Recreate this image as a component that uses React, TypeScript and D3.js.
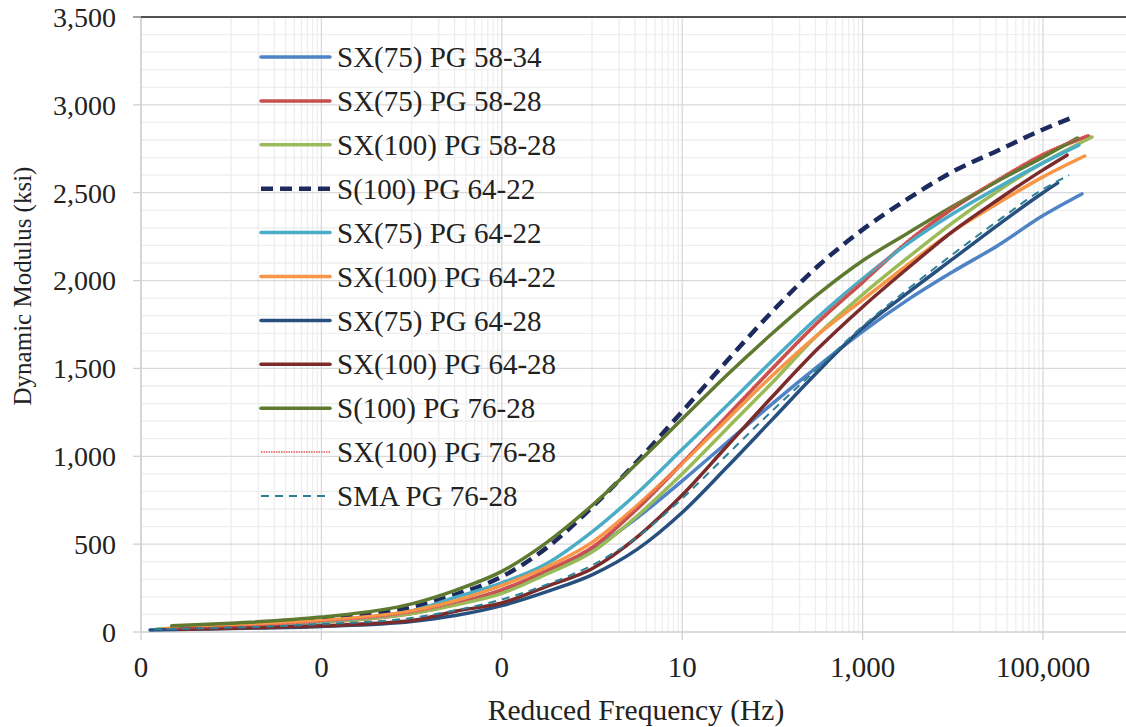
import React from "react";
import * as d3 from "d3";

const W = 1126;
const H = 727;

// common frequency grid (Hz) between each series' start and end
const GRID_FREQ = [1e-4, 1e-3, 1e-2, 0.0316, 0.1, 0.316, 1, 3.16, 10, 31.6, 100, 316, 1000, 3162, 10000, 31623, 100000];

const SERIES_NAMES = [
  "SX(75) PG 58-34",
  "SX(75) PG 58-28",
  "SX(100) PG 58-28",
  "S(100) PG 64-22",
  "SX(75) PG 64-22",
  "SX(100) PG 64-22",
  "SX(75) PG 64-28",
  "SX(100) PG 64-28",
  "S(100) PG 76-28",
  "SX(100) PG 76-28",
  "SMA PG 76-28",
];

const START_FREQ = [1.6e-5, 1.9e-5, 1.5e-5, 2.1e-5, 2.1e-5, 1.9e-5, 1.26e-5, 2.7e-5, 2.2e-5, 1.9e-5, 1.4e-5];
const START_VAL = [15, 15, 17, 25, 15, 20, 12, 15, 35, 18, 15];
const END_FREQ = [2.7e5, 3.2e5, 3.5e5, 2.3e5, 2.5e5, 2.9e5, 1.45e5, 1.85e5, 2.4e5, 3.1e5, 1.95e5];
const END_VAL = [2493, 2823, 2817, 2935, 2771, 2709, 2555, 2714, 2811, 2830, 2600];

const sx75_5834 = [30, 60, 110, 165, 240, 340, 470, 650, 860, 1080, 1300, 1510, 1710, 1890, 2050, 2200, 2370];
const sx75_5828 = [28, 55, 105, 160, 240, 350, 480, 700, 960, 1230, 1500, 1760, 1990, 2220, 2410, 2570, 2715];
const sx100_5828 = [28, 55, 105, 155, 220, 330, 455, 660, 900, 1160, 1420, 1690, 1920, 2130, 2330, 2510, 2670];
const s100_6422 = [40, 75, 140, 215, 315, 480, 710, 970, 1255, 1545, 1825, 2080, 2290, 2465, 2620, 2740, 2860];
const sx75_6422 = [30, 60, 120, 200, 280, 390, 570, 790, 1040, 1290, 1545, 1790, 2010, 2210, 2380, 2530, 2670];
const sx100_6422 = [35, 65, 120, 180, 265, 370, 510, 720, 960, 1210, 1460, 1690, 1890, 2090, 2280, 2440, 2590];
const sx75_6428 = [20, 32, 60, 95, 150, 230, 325, 470, 680, 940, 1210, 1480, 1730, 1930, 2123, 2316, 2500];
const sx100_6428 = [22, 35, 65, 120, 165, 260, 360, 540, 780, 1060, 1340, 1610, 1850, 2070, 2280, 2460, 2630];
const s100_7628 = [50, 85, 160, 240, 345, 510, 720, 960, 1212, 1464, 1700, 1920, 2113, 2270, 2423, 2567, 2702];
const sx100_7628 = [30, 58, 110, 165, 245, 355, 490, 710, 970, 1240, 1510, 1770, 2000, 2230, 2420, 2580, 2725];
const sma_7628 = [25, 45, 80, 125, 185, 270, 380, 540, 760, 1010, 1260, 1500, 1740, 1950, 2150, 2340, 2520];

const SERIES_VALUES = [sx75_5834, sx75_5828, sx100_5828, s100_6422, sx75_6422, sx100_6422, sx75_6428, sx100_6428, s100_7628, sx100_7628, sma_7628];

const COLORS = ["#4f83c6", "#c5504c", "#9bbb59", "#1d2a5e", "#4bacc6", "#f79646", "#28507f", "#7a2b2a", "#5f7a30", "#e0585a", "#2f8096"];
const WIDTHS = [3.5, 3.5, 3.5, 4.5, 3.5, 3.5, 3.5, 3.5, 3.5, 1.5, 2];
const DASHES = [null, null, null, "12 7", null, null, null, null, null, "1.5 1", "8 6"];

const Y_TICKS = [0, 500, 1000, 1500, 2000, 2500, 3000, 3500];
const X_MAJOR = [1e-5, 1e-3, 1e-1, 1e1, 1e3, 1e5];
const X_TICK_LABELS = ["0", "0", "0", "10", "1,000", "100,000"];

const FONT = "'Liberation Serif', 'Times New Roman', serif";

export default function App() {
  const left = 141;
  const top = 17;
  const bottom = 632;
  const right = W;
  const x = d3.scaleLog().domain([1e-5, 1e5]).range([141, 1043]);
  const y = d3.scaleLinear().domain([0, 3500]).range([bottom, top]);

  const minorY = d3.range(0, 3501, 100).filter((v) => v % 500 !== 0);
  const minorX: number[] = [];
  X_MAJOR.concat([1e7]).forEach((m) => {
    for (let k = 1; k <= 9; k++) {
      const v = m * 10 * k;
      if (x(v) < right) minorX.push(v);
    }
  });

  const line = d3
    .line<[number, number]>()
    .x((d) => x(d[0]))
    .y((d) => y(d[1]))
    .curve(d3.curveMonotoneX);

  const seriesPts = SERIES_NAMES.map((_, i) => {
    const pts: [number, number][] = [[START_FREQ[i], START_VAL[i]]];
    GRID_FREQ.forEach((f, j) => pts.push([f, SERIES_VALUES[i][j]]));
    pts.push([END_FREQ[i], END_VAL[i]]);
    return pts;
  });

  const legendY0 = 57;
  const legendStep = 43.9;

  return (
    <svg width={W} height={H} style={{ position: "absolute", left: 0, top: 0, background: "#fff" }}>
      <rect x={0} y={0} width={W} height={H} fill="#fff" />
      {/* minor gridlines */}
      {minorY.map((v) => (
        <line key={"my" + v} x1={left} x2={right} y1={y(v)} y2={y(v)} stroke="#eeeeee" strokeWidth={1.3} />
      ))}
      {minorX.map((v, i) => (
        <line key={"mx" + i} x1={x(v)} x2={x(v)} y1={top} y2={bottom} stroke="#eeeeee" strokeWidth={1.3} />
      ))}
      {/* major gridlines */}
      {Y_TICKS.filter((v) => v > 0).map((v) => (
        <line key={"gy" + v} x1={left} x2={right} y1={y(v)} y2={y(v)} stroke="#d9d9d9" strokeWidth={1.3} />
      ))}
      {X_MAJOR.map((v) => (
        <line key={"gx" + v} x1={x(v)} x2={x(v)} y1={top} y2={bottom} stroke="#d9d9d9" strokeWidth={1.3} />
      ))}
      {/* axes */}
      <line x1={left} x2={left} y1={top} y2={bottom} stroke="#d0d0d0" strokeWidth={1.5} />
      <line x1={left} x2={right} y1={bottom} y2={bottom} stroke="#d0d0d0" strokeWidth={1.5} />
      <line x1={133} x2={right} y1={top} y2={top} stroke="#222" strokeWidth={1.3} />
      {Y_TICKS.map((v) => (
        <g key={"yt" + v}>
          <line x1={133} x2={left} y1={y(v)} y2={y(v)} stroke="#d0d0d0" strokeWidth={1.3} />
          <text x={116} y={y(v)} dy="0.35em" textAnchor="end" fontFamily={FONT} fontSize={28} fill="#222">
            {d3.format(",")(v)}
          </text>
        </g>
      ))}
      {X_MAJOR.map((v, i) => (
        <g key={"xt" + v}>
          <line x1={x(v)} x2={x(v)} y1={bottom} y2={bottom + 8} stroke="#d0d0d0" strokeWidth={1.3} />
          <text x={x(v)} y={677} textAnchor="middle" fontFamily={FONT} fontSize={29} fill="#222">
            {X_TICK_LABELS[i]}
          </text>
        </g>
      ))}
      {/* series */}
      {seriesPts.map((pts, i) => (
        <path
          key={"s" + i}
          d={line(pts) || ""}
          fill="none"
          stroke={COLORS[i]}
          strokeWidth={WIDTHS[i]}
          strokeDasharray={DASHES[i] || undefined}
          strokeLinecap={DASHES[i] ? "butt" : "round"}
          strokeLinejoin="round"
        />
      ))}
      {/* legend */}
      {SERIES_NAMES.map((name, i) => {
        const ly = legendY0 + i * legendStep;
        return (
          <g key={"lg" + i}>
            <line
              x1={261}
              x2={330}
              y1={ly}
              y2={ly}
              stroke={COLORS[i]}
              strokeWidth={WIDTHS[i]}
              strokeDasharray={DASHES[i] || undefined}
              strokeLinecap={DASHES[i] ? "butt" : "round"}
            />
            <text x={337} y={ly} dy="0.35em" fontFamily={FONT} fontSize={29} fill="#222">
              {name}
            </text>
          </g>
        );
      })}
      {/* titles */}
      <text x={636} y={720} textAnchor="middle" fontFamily={FONT} fontSize={29.5} fill="#222">
        Reduced Frequency (Hz)
      </text>
      <text
        transform={`translate(31, ${286}) rotate(-90)`}
        textAnchor="middle"
        fontFamily={FONT}
        fontSize={25}
        fill="#222"
      >
        Dynamic Modulus (ksi)
      </text>
    </svg>
  );
}
